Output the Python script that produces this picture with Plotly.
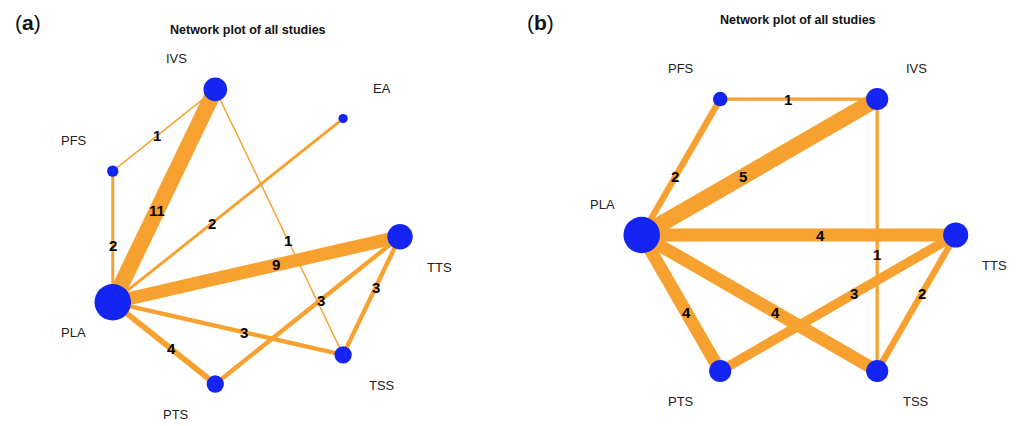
import math
import plotly.graph_objects as go

# ---- Panel (a): treatments placed counter-clockwise starting at 3 o'clock
treat_a = ["TTS", "EA", "IVS", "PFS", "PLA", "PTS", "TSS"]
edge_a_from = ["EA", "IVS", "IVS", "IVS", "PFS", "PLA", "PLA", "PLA", "PTS", "TSS"]
edge_a_to = ["PLA", "PFS", "PLA", "TSS", "PLA", "PTS", "TSS", "TTS", "TTS", "TTS"]
edge_a_n = [2, 1, 11, 1, 2, 4, 3, 9, 3, 3]

# ---- Panel (b)
treat_b = ["TTS", "IVS", "PFS", "PLA", "PTS", "TSS"]
edge_b_from = ["IVS", "IVS", "IVS", "PFS", "PLA", "PLA", "PLA", "PTS", "TSS"]
edge_b_to = ["PFS", "PLA", "TSS", "PLA", "PTS", "TSS", "TTS", "TTS", "TTS"]
edge_b_n = [1, 5, 1, 2, 4, 4, 4, 3, 2]

W, H = 1024, 426
FONT = "Liberation Sans, Arial, Helvetica, sans-serif"
EDGE_COLOR = "#F7A230"
NODE_COLOR = "#1424F2"
MAX_EDGE_W = 16.0
MAX_NODE_D = 36.5
LABEL_T = 0.57  # edge label position along the edge (from first to second node)

fig = go.Figure()
annotations = []


def network(nodes, e_from, e_to, e_n, cx, cy, r, tag, tag_x, title_x, title_y):
    k = len(nodes)
    pos, quad = {}, {}
    for i, name in enumerate(nodes):
        a = 2 * math.pi * i / k
        pos[name] = (cx + r * math.cos(a), cy - r * math.sin(a))
        up = 1e-9 < a <= math.pi + 1e-9
        quad[name] = (1 if math.cos(a) > 1e-9 else -1, -1 if up else 1)

    nmax = max(e_n)
    weight = {name: 0 for name in nodes}
    for f, t, n in zip(e_from, e_to, e_n):
        weight[f] += n
        weight[t] += n
        (x0, y0), (x1, y1) = pos[f], pos[t]
        fig.add_trace(go.Scatter(
            x=[x0, x1], y=[y0, y1], mode="lines",
            line=dict(color=EDGE_COLOR, width=MAX_EDGE_W * n / nmax),
            hoverinfo="skip", showlegend=False))

    wmax = max(weight.values())
    fig.add_trace(go.Scatter(
        x=[pos[nm][0] for nm in nodes], y=[pos[nm][1] for nm in nodes],
        mode="markers",
        marker=dict(color=NODE_COLOR, opacity=1,
                    size=[MAX_NODE_D * math.sqrt(weight[nm] / wmax) for nm in nodes],
                    line=dict(width=0)),
        hoverinfo="skip", showlegend=False))

    # study counts on the edges
    for f, t, n in zip(e_from, e_to, e_n):
        (x0, y0), (x1, y1) = pos[f], pos[t]
        annotations.append(dict(
            x=x0 + LABEL_T * (x1 - x0), y=y0 + LABEL_T * (y1 - y0),
            text=f"<b>{n}</b>", showarrow=False,
            font=dict(family=FONT, size=15, color="black"),
            xanchor="center", yanchor="middle"))

    # treatment names, offset diagonally away from the centre
    for nm in nodes:
        sx, sy = quad[nm]
        annotations.append(dict(
            x=pos[nm][0] + 39 * sx, y=pos[nm][1] + 30.5 * sy,
            text=nm, showarrow=False,
            font=dict(family=FONT, size=13, color="#222222"),
            xanchor="center", yanchor="middle"))

    annotations.append(dict(
        x=title_x, y=title_y, text="<b>Network plot of all studies</b>",
        showarrow=False, font=dict(family=FONT, size=12.5, color="#111111"),
        xanchor="center", yanchor="middle"))
    annotations.append(dict(
        x=tag_x, y=22, text=f"(<b>{tag}</b>)", showarrow=False,
        font=dict(family=FONT, size=21, color="#111111"),
        xanchor="left", yanchor="middle"))


network(treat_a, edge_a_from, edge_a_to, edge_a_n,
        cx=248.9, cy=236.7, r=151.1, tag="a", tag_x=13, title_x=248, title_y=29.5)
network(treat_b, edge_b_from, edge_b_to, edge_b_n,
        cx=798.7, cy=235.0, r=157.0, tag="b", tag_x=525, title_x=798, title_y=19.5)

fig.update_layout(
    width=W, height=H,
    margin=dict(l=0, r=0, t=0, b=0),
    paper_bgcolor="white", plot_bgcolor="white",
    xaxis=dict(range=[0, W], visible=False, fixedrange=True),
    yaxis=dict(range=[H, 0], visible=False, fixedrange=True),
    annotations=annotations,
    showlegend=False,
)

fig.write_html("out.html", config={"displayModeBar": False})
